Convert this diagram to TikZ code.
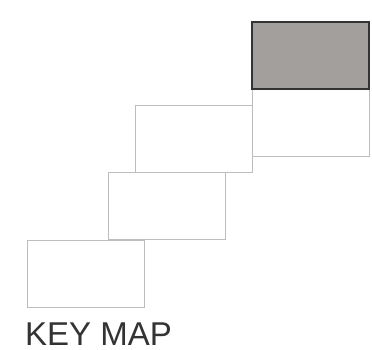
\documentclass[tikz,border=0pt]{standalone}
\usepackage{fontspec}
\setmainfont{Liberation Sans}
\usetikzlibrary{positioning}
\definecolor{framegray}{HTML}{BDBDBD}
\definecolor{keyfill}{HTML}{A29F9C}
\definecolor{keyline}{HTML}{333333}
\tikzset{
  sheetbox/.style={draw=framegray,fill=white,line width=0.9pt,
                   minimum width=117pt,minimum height=67pt,
                   inner sep=0pt,outer sep=0pt,anchor=north west},
  keybox/.style={sheetbox,draw=keyline,fill=keyfill,line width=1.6pt},
  maptitle/.style={font=\fontsize{33}{38}\selectfont,text=keyline,inner sep=0pt,anchor=base west}
}
\begin{document}
\begin{tikzpicture}[x=1pt,y=-1pt]
  \useasboundingbox (0,0) rectangle (372,350);
  \node[sheetbox] (sheetA) at (27,240) {};
  \node[sheetbox] (sheetB) at (108,172) {};
  \node[sheetbox] (sheetC) at (135,105) {};
  \node[sheetbox] (sheetD) at (252,89) {};
  \node[keybox] (sheetE) at (252,22) {};
  \node[maptitle] (title) at (25,345) {KEY MAP};
\end{tikzpicture}
\end{document}
